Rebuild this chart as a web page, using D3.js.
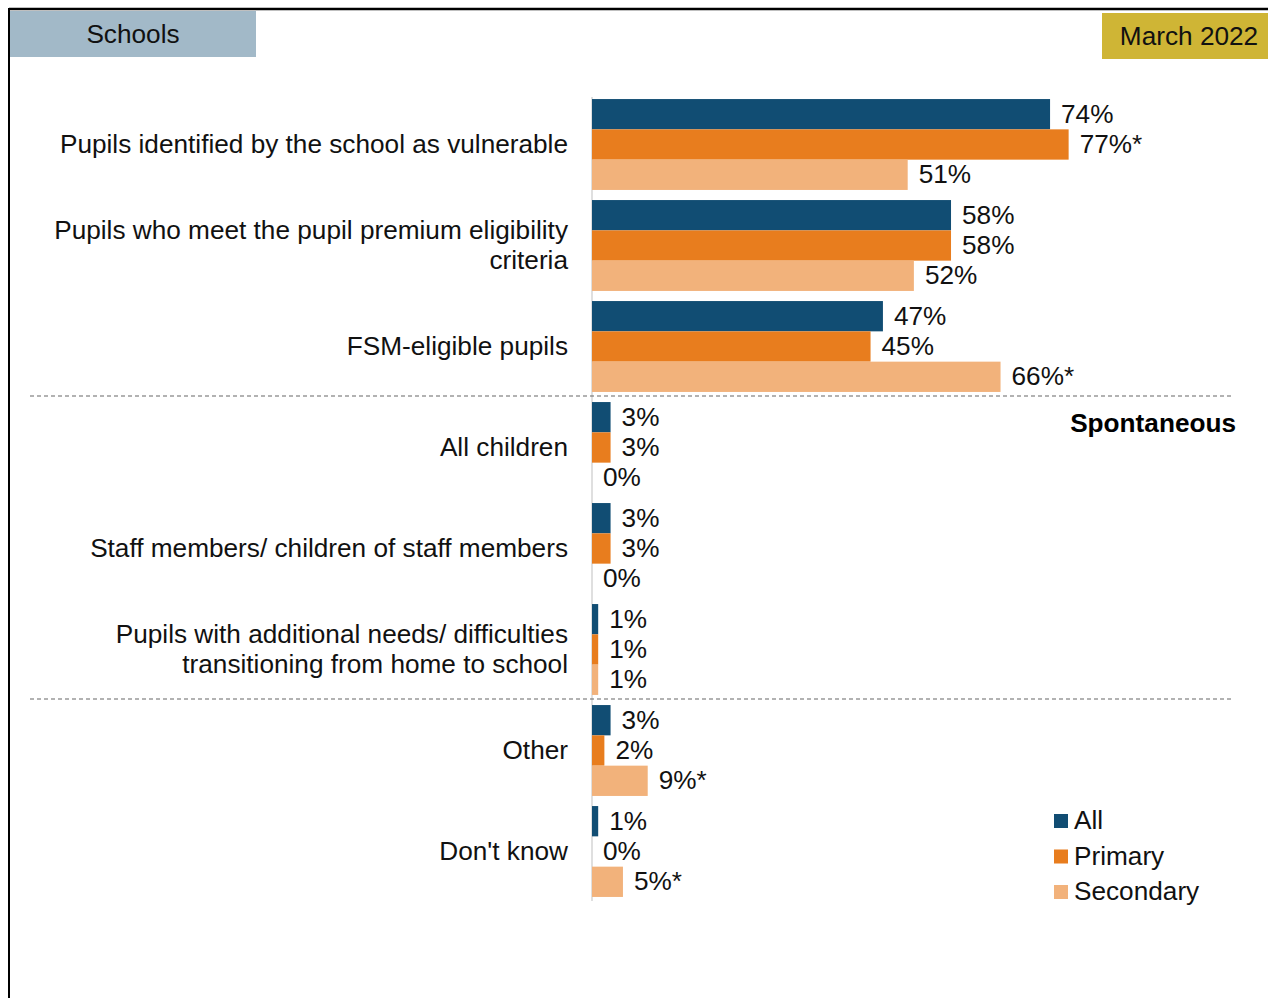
<!DOCTYPE html>
<html>
<head>
<meta charset="utf-8">
<script src="https://cdn.jsdelivr.net/npm/d3@7"></script>
<style>
  html, body { margin: 0; padding: 0; background: #fff; }
  svg { display: block; font-family: "Liberation Sans", Arial, sans-serif; }
</style>
</head>
<body>
<svg id="chart" width="1268" height="998"></svg>
<script>
// Reasons given for prioritising pupils, by school phase
const categories = [
  ["Pupils identified by the school as vulnerable"],
  ["Pupils who meet the pupil premium eligibility", "criteria"],
  ["FSM-eligible pupils"],
  ["All children"],
  ["Staff members/ children of staff members"],
  ["Pupils with additional needs/ difficulties", "transitioning from home to school"],
  ["Other"],
  ["Don't know"]
];
const seriesNames = ["All", "Primary", "Secondary"];
const allValues       = [74, 58, 47, 3, 3, 1, 3, 1];
const primaryValues   = [77, 58, 45, 3, 3, 1, 2, 0];
const secondaryValues = [51, 52, 66, 0, 0, 1, 9, 5];
// significant differences are flagged with an asterisk
const primaryFlags    = [true, false, false, false, false, false, false, false];
const secondaryFlags  = [false, false, true, false, false, false, true, true];
// section breaks fall after these category indices
const sectionBreaks = [2, 5];

const colors = { All: "#114d73", Primary: "#e87d1e", Secondary: "#f2b27b" };
const series = [
  { name: "All", values: allValues, flags: allValues.map(() => false) },
  { name: "Primary", values: primaryValues, flags: primaryFlags },
  { name: "Secondary", values: secondaryValues, flags: secondaryFlags }
];

const svg = d3.select("#chart");
const FONT = 26.2;
const DY = "0.32em";
const textColor = "#111";

// Frame
svg.append("line").attr("x1", 9).attr("x2", 1268).attr("y1", 9).attr("y2", 9)
  .attr("stroke", "#000").attr("stroke-width", 2.5);
svg.append("line").attr("x1", 9).attr("x2", 9).attr("y1", 8).attr("y2", 998)
  .attr("stroke", "#000").attr("stroke-width", 2);

// Header boxes
svg.append("rect").attr("x", 10).attr("y", 11).attr("width", 246).attr("height", 46)
  .attr("fill", "#a2b9c8");
svg.append("text").attr("x", 133).attr("y", 43).attr("text-anchor", "middle")
  .attr("font-size", FONT).attr("fill", textColor).text("Schools");
svg.append("rect").attr("x", 1102).attr("y", 13).attr("width", 166).attr("height", 46)
  .attr("fill", "#cfb535");
svg.append("text").attr("x", 1189).attr("y", 45).attr("text-anchor", "middle")
  .attr("font-size", FONT).attr("fill", textColor).text("March 2022");

// Scales
const idx = categories.map((d, i) => i);
const x = d3.scaleLinear().domain([0, 100]).range([592, 1211]);
const y = d3.scaleBand().domain(idx).range([94, 902]).paddingInner(0.1).paddingOuter(0.05);
const ySub = d3.scaleBand().domain(seriesNames).range([0, y.bandwidth()]);

// Category axis line
svg.append("line").attr("x1", x(0)).attr("x2", x(0))
  .attr("y1", y(0) - 2).attr("y2", y(idx.length - 1) + y.bandwidth() + 4)
  .attr("stroke", "#d4d4d4").attr("stroke-width", 1.5);

// Bars
const groups = svg.append("g").selectAll("g").data(idx).join("g")
  .attr("transform", i => `translate(0,${y(i)})`);

series.forEach(s => {
  groups.append("rect")
    .attr("x", x(0))
    .attr("y", ySub(s.name))
    .attr("width", i => x(s.values[i]) - x(0))
    .attr("height", ySub.bandwidth())
    .attr("fill", colors[s.name]);
  groups.append("text")
    .attr("x", i => x(s.values[i]) + 11)
    .attr("y", ySub(s.name) + ySub.bandwidth() / 2)
    .attr("dy", DY)
    .attr("font-size", FONT)
    .attr("fill", textColor)
    .text(i => s.values[i] + "%" + (s.flags[i] ? "*" : ""));
});

// Category labels
groups.each(function(i) {
  const lines = categories[i];
  const c = y.bandwidth() / 2;
  const lh = 30;
  const t = d3.select(this).append("text")
    .attr("text-anchor", "end").attr("font-size", FONT).attr("fill", textColor);
  lines.forEach((ln, k) => {
    t.append("tspan").attr("x", 568)
      .attr("y", c + (k - (lines.length - 1) / 2) * lh)
      .attr("dy", DY).text(ln);
  });
});

// Section dividers
sectionBreaks.forEach(b => {
  const yy = (y(b) + y.bandwidth() + y(b + 1)) / 2 - 1;
  svg.append("line").attr("x1", 30).attr("x2", 1233).attr("y1", yy).attr("y2", yy)
    .attr("stroke", "#666").attr("stroke-width", 1.2).attr("stroke-dasharray", "4,3");
});

svg.append("text").attr("x", 1236).attr("y", 424).attr("dy", DY)
  .attr("text-anchor", "end").attr("font-size", FONT).attr("font-weight", "bold")
  .attr("fill", "#000").text("Spontaneous");

// Legend
const legend = svg.append("g").selectAll("g").data(seriesNames).join("g")
  .attr("transform", (d, i) => `translate(1054,${821 + i * 35.5})`);
legend.append("rect").attr("x", 0).attr("y", -7).attr("width", 14).attr("height", 14)
  .attr("fill", d => colors[d]);
legend.append("text").attr("x", 20).attr("y", 0).attr("dy", DY)
  .attr("font-size", FONT).attr("fill", textColor).text(d => d);
</script>
</body>
</html>
